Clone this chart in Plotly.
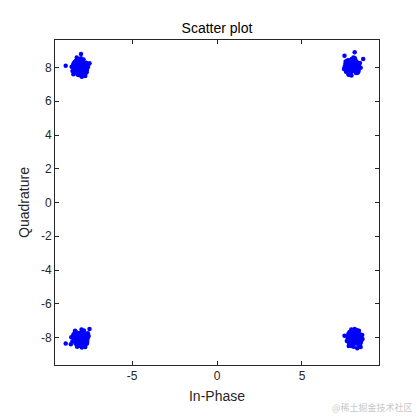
import plotly.graph_objects as go

# cluster centres (In-Phase, Quadrature)
centers_i = [-8.05, 7.95, -8.05, 8.1]
centers_q = [8.0, 8.05, -8.05, -8.05]

# offsets of the received symbols around each centre
dx_tl = [0.00, 0.12, -0.15, 0.25, -0.28, 0.05, -0.08, 0.32, -0.35, 0.18, -0.20, 0.40, -0.42, 0.10, -0.05, 0.22,
         -0.30, 0.35, -0.12, 0.28, -0.25, 0.08, 0.15, -0.38, 0.45, -0.18, 0.02, 0.30, -0.45, 0.20, -0.10, 0.38,
         -0.32, 0.12, -0.22, 0.48, -0.50, 0.05, 0.25, -0.15, -0.85, 0.05, -0.20, 0.55, 0.30, -0.40, 0.10, -0.02,
         0.06, -0.18, 0.20, -0.04, 0.14, -0.24, 0.26, -0.12, 0.00, 0.18, -0.08, 0.10, -0.26, 0.22, -0.16, 0.04]
dy_tl = [0.00, 0.15, -0.10, -0.22, 0.18, 0.30, -0.32, 0.08, -0.05, -0.40, 0.35, -0.15, 0.12, 0.42, 0.22, 0.05,
         -0.25, 0.28, -0.45, -0.30, 0.40, -0.18, 0.38, 0.25, 0.02, -0.12, -0.48, -0.38, -0.20, 0.48, 0.10, -0.28,
         0.32, -0.22, -0.35, 0.15, 0.05, 0.55, 0.20, 0.50, 0.10, 0.80, 0.60, 0.25, -0.50, -0.40, -0.55, 0.35,
         0.08, -0.06, -0.10, 0.20, -0.24, 0.04, 0.12, -0.20, -0.14, 0.26, 0.16, -0.02, -0.08, -0.16, 0.24, -0.26]

dx_tr = [0.02, -0.14, 0.18, -0.26, 0.30, -0.06, 0.10, -0.34, 0.36, -0.20, 0.22, -0.40, 0.42, -0.08, 0.06, -0.24,
         0.28, -0.36, 0.14, -0.30, 0.26, -0.10, -0.16, 0.38, -0.44, 0.20, -0.02, -0.28, 0.46, -0.18, 0.12, -0.38,
         0.34, -0.12, 0.24, -0.48, 0.50, -0.04, -0.22, 0.16, -0.45, 0.15, 0.65, 0.08, -0.30, 0.40, -0.10, 0.00,
         -0.06, 0.16, -0.20, 0.04, -0.14, 0.24, -0.26, 0.12, 0.02, -0.18, 0.08, -0.10, 0.26, -0.22, 0.16, -0.04]
dy_tr = [0.02, -0.16, 0.12, 0.24, -0.20, -0.28, 0.34, -0.06, 0.04, 0.38, -0.36, 0.16, -0.10, -0.42, -0.24, -0.04,
         0.26, -0.30, 0.44, 0.28, -0.38, 0.20, -0.40, -0.26, 0.00, 0.14, 0.46, 0.36, 0.22, -0.48, -0.12, 0.30,
         -0.34, 0.24, 0.32, -0.14, -0.06, -0.52, -0.46, 0.50, 0.65, 0.85, 0.45, 0.55, -0.10, 0.10, -0.30, 0.18,
         -0.08, 0.06, 0.10, -0.20, 0.24, -0.04, -0.12, 0.20, 0.14, -0.26, -0.16, 0.02, 0.08, 0.16, -0.24, 0.26]

dx_bl = [0.00, 0.14, -0.12, 0.26, -0.30, 0.04, -0.10, 0.34, -0.36, 0.16, -0.22, 0.42, -0.40, 0.12, -0.04, 0.20,
         -0.28, 0.36, -0.14, 0.30, -0.26, 0.06, 0.18, -0.40, 0.44, -0.16, 0.00, 0.32, -0.46, 0.22, -0.08, 0.40,
         -0.34, 0.10, -0.24, 0.50, -0.52, 0.08, 0.26, -0.18, -0.85, 0.55, 0.45, -0.55, 0.30, -0.30, 0.10, -0.06,
         0.08, -0.16, 0.22, -0.06, 0.12, -0.22, 0.28, -0.10, 0.02, 0.16, -0.06, 0.12, -0.24, 0.20, -0.18, 0.06]
dy_bl = [0.02, 0.12, -0.14, -0.20, 0.20, 0.28, -0.30, 0.10, -0.08, -0.38, 0.34, -0.16, 0.14, 0.40, 0.24, 0.04,
         -0.26, 0.26, -0.44, -0.32, 0.38, -0.20, 0.40, 0.22, 0.00, -0.10, -0.46, -0.36, -0.18, 0.46, 0.12, -0.30,
         0.30, -0.24, -0.34, 0.14, 0.06, 0.52, 0.18, -0.50, -0.30, 0.55, 0.30, -0.35, -0.52, 0.45, -0.55, 0.32,
         0.06, -0.08, -0.12, 0.18, -0.22, 0.06, 0.14, -0.18, -0.16, 0.24, 0.18, -0.04, -0.06, -0.14, 0.22, -0.24]

dx_br = [0.00, -0.12, 0.16, -0.24, 0.28, -0.04, 0.08, -0.32, 0.34, -0.18, 0.20, -0.38, 0.40, -0.10, 0.04, -0.22,
         0.30, -0.34, 0.12, -0.28, 0.24, -0.08, -0.14, 0.36, -0.42, 0.18, -0.02, -0.30, 0.44, -0.20, 0.10, -0.36,
         0.32, -0.14, 0.22, -0.46, 0.46, -0.06, -0.24, 0.14, -0.60, 0.00, 0.35, -0.20, 0.25, -0.35, 0.15, 0.05,
         -0.08, 0.14, -0.22, 0.06, -0.12, 0.22, -0.28, 0.10, -0.02, -0.16, 0.06, -0.12, 0.24, -0.20, 0.18, -0.06]
dy_br = [0.00, -0.14, 0.10, 0.22, -0.18, -0.30, 0.32, -0.08, 0.06, 0.40, -0.34, 0.18, -0.12, -0.40, -0.22, -0.06,
         0.24, -0.28, 0.42, 0.30, -0.40, 0.18, -0.38, -0.24, 0.02, 0.12, 0.46, 0.38, 0.20, -0.46, -0.10, 0.28,
         -0.32, 0.26, 0.34, -0.16, -0.04, -0.50, -0.44, 0.48, 0.15, 0.55, -0.52, 0.52, 0.45, -0.45, -0.58, 0.30,
         -0.06, 0.08, 0.12, -0.18, 0.22, -0.06, -0.14, 0.18, 0.16, -0.24, -0.18, 0.04, 0.06, 0.14, -0.22, 0.24]

offsets_x = [dx_tl, dx_tr, dx_bl, dx_br]
offsets_y = [dy_tl, dy_tr, dy_bl, dy_br]

xs, ys = [], []
for ci, cq, ox, oy in zip(centers_i, centers_q, offsets_x, offsets_y):
    xs += [ci + d for d in ox]
    ys += [cq + d for d in oy]

x_ticks = [-5, 0, 5]
x_ticktext = ["-5", "0", "5"]
y_ticks = [-8, -6, -4, -2, 0, 2, 4, 6, 8]
y_ticktext = ["-8", "-6", "-4", "-2", "0", "2", "4", "6", "8"]

fig = go.Figure()
fig.add_trace(go.Scatter(x=xs, y=ys, mode="markers",
                         marker=dict(color="#0000ff", size=4.5, line=dict(width=0)),
                         hoverinfo="skip", showlegend=False))

font_family = "Liberation Sans, Arial, sans-serif"
axis_common = dict(showgrid=False, zeroline=False, showline=True, linecolor="#262626", linewidth=1,
                   mirror="ticks", ticks="inside", ticklen=4, tickcolor="#262626", automargin=False,
                   tickfont=dict(family=font_family, size=12, color="#262626"))

# page has an 8px body margin, so the figure is 412x412 and offset by 8px
W = H = 412
fig.update_layout(
    width=W, height=H,
    margin=dict(l=47, r=41, t=32, b=55, autoexpand=False),
    paper_bgcolor="white", plot_bgcolor="white",
    title=dict(text="Scatter plot", x=0.5 * (47 + 371) / W, xanchor="center", y=1 - 20 / H, yanchor="middle",
               font=dict(family=font_family, size=14, color="black")),
    xaxis=dict(range=[-9.53, 9.53], tickvals=x_ticks, ticktext=x_ticktext,
               title=dict(text="In-Phase", standoff=8, font=dict(family=font_family, size=14, color="#262626")),
               **axis_common),
    yaxis=dict(range=[-9.63, 9.63], tickvals=y_ticks, ticktext=y_ticktext,
               title=dict(text="Quadrature", standoff=8, font=dict(family=font_family, size=14, color="#262626")),
               **axis_common),
    annotations=[dict(text="@稀土掘金技术社区", x=1, y=0, xref="paper", yref="paper", xanchor="right",
                      yanchor="middle", xshift=36, yshift=-42, showarrow=False,
                      font=dict(family="Noto Sans CJK SC", size=9, color="#c8c8c8"))],
)

fig.write_html("out.html")
